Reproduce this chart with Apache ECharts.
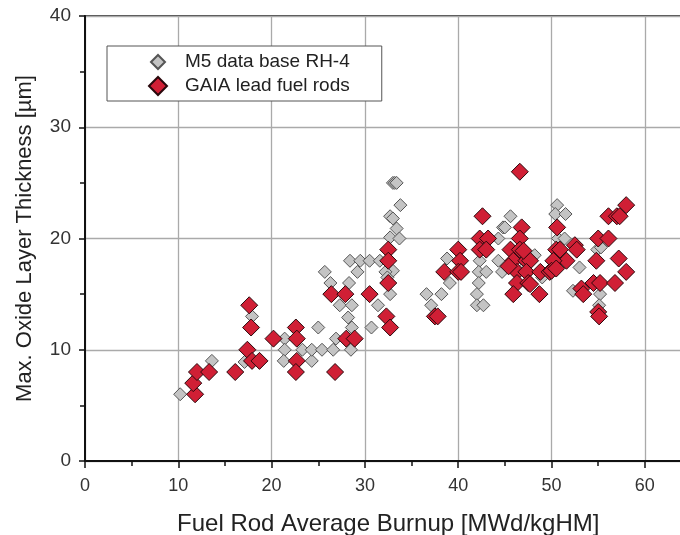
<!DOCTYPE html>
<html>
<head>
<meta charset="UTF-8">
<title>Oxide layer vs burnup</title>
<script src="https://cdn.jsdelivr.net/npm/echarts@6/dist/echarts.min.js"></script>
<style>
body { margin: 0; padding: 0; background: #fff; }
#main { width: 680px; height: 535px; }
</style>
</head>
<body>
<div id="main"></div>
<script>
// burnup [MWd/kgHM], max oxide thickness [µm]
var m5Points = [
  [10.2,6],[13.6,9],[17.9,13],[17.1,8.9],
  [21.4,11],[21.4,10],[21.3,9],[23.3,10],[24.3,9],[24.3,10],[25.4,10],[25,12],[26.6,10],[26.9,11],
  [25.7,17],[26.3,16],[27.3,14],[28.3,16],[29.2,17],[28.4,18],[29.5,18],[30.5,18],[31.6,18],
  [28.6,14],[28.2,12.9],[28.6,12],[28.5,10],[30.7,12],[31.4,14],
  [33.0,25],[33.2,25],[33.4,25],[33.8,23],[32.7,22],[33,21.8],[33.4,20.9],[32.7,20.1],[33.7,20],
  [33,17.1],[32.2,17],[32.7,15],[32.4,16.5],
  [36.6,15],[37.1,14],[38.2,15],[38.8,18.2],[39.1,16],
  [42.3,18],[42.2,17],[42.2,16],[42,15],[42,14],[42.7,14],[43,17],[44.3,20],[44.8,21],[44.3,18],
  [44.7,17],[45.6,22],[45,21],[47.2,17.5],[48.2,18.5],[49,16.5],
  [50.6,23],[50.4,22.2],[51.5,22.2],[50.7,20],[51.4,20],[53,17.4],[52.3,15.3],
  [54.9,19],[55.2,15],[55.1,14],[55.3,19.2]
];
var gaiaPoints = [
  [11.8,6],[11.6,7],[12,8],[13.3,8],[16.1,8],[17.6,14],[17.8,12],[17.4,10],[17.9,9],[18.7,9],[20.2,11],
  [22.6,12],[22.7,11],[22.7,9],[22.6,8],[26.8,8],[26.4,15],[27.9,15],[30.5,15],[28,11],[28.9,11],
  [32.5,19],[32.5,18],[32.5,16],[32.3,13],[32.7,12],
  [37.5,13],[37.8,13],[38.5,17],[40,19],[40.2,18],[40,17],[40.3,17],
  [42.3,20],[43.2,20],[42.3,19],[43,19],[42.6,22],[46.6,26],[46.8,21],[46.6,20],[45.6,19],[46.6,19],
  [45.9,18],[47.3,18],[47.7,18],[46.3,17],[47.3,17],[46.3,16],[45.9,15],[47.5,16],[47,18.9],[47.7,15.9],
  [48.8,17],[48.7,15],[49.8,17],[50.5,18],[50.5,19],[50.9,19],[50.6,21],[51.6,18],[52.5,19.4],[52.7,19],
  [53.2,15.5],[53.4,15],[54.8,18],[55,20],[56.1,20],[54.5,16],[55.2,16],[55,13.4],[55.1,13],
  [56.8,16],[57.2,18.2],[58,17],[56.1,22],[57,22],[57.3,22],[58,23],[50.2,18],[50,17.1],[50.5,17.3],[45.4,17.5]
];
var seriesNames = ['M5 data base RH-4', 'GAIA lead fuel rods'];
var xTitle = 'Fuel Rod Average Burnup [MWd/kgHM]';
var yTitle = 'Max. Oxide Layer Thickness [µm]';

var chart = echarts.init(document.getElementById('main'));
var font = 'Liberation Sans, Arial, sans-serif';

var option = {
  animation: false,
  grid: {
    left: 85, top: 16, bottom: 74, right: -11.5,
    outerBoundsMode: 'none', containLabel: false,
    show: true, borderColor: '#444', borderWidth: 2
  },
  legend: {
    orient: 'vertical',
    left: 107, top: 46,
    padding: [6, 32, 5, 28],
    itemWidth: 44, itemHeight: 18, itemGap: 4,
    borderColor: '#555', borderWidth: 1,
    backgroundColor: '#fff',
    textStyle: { fontFamily: font, fontSize: 19, lineHeight: 20, color: '#222' },
    // icon paths pad the symbol to the full 44x18 box so it sits centred
    data: [
      { name: seriesNames[0], icon: 'path://M0,0 M44,18 M15,9 L22,2 L29,9 L22,16 Z' },
      { name: seriesNames[1], icon: 'path://M0,0 M44,18 M13,9 L22,0 L31,9 L22,18 Z' }
    ]
  },
  xAxis: {
    type: 'value', min: 0, max: 65, interval: 10,
    name: xTitle, nameLocation: 'middle', nameGap: 51,
    nameTextStyle: { fontFamily: font, fontSize: 24, color: '#222' },
    axisLine: { lineStyle: { color: '#111', width: 2 } },
    axisTick: { length: 7, lineStyle: { color: '#111', width: 1.5 } },
    minorTick: { show: true, splitNumber: 2, length: 5, lineStyle: { color: '#111', width: 1.5 } },
    axisLabel: { fontFamily: font, fontSize: 18, color: '#333', margin: 16, showMaxLabel: false },
    splitLine: { lineStyle: { color: '#aaa', width: 1.3 } }
  },
  yAxis: {
    type: 'value', min: 0, max: 40, interval: 10,
    name: yTitle, nameLocation: 'middle', nameGap: 49,
    nameTextStyle: { fontFamily: font, fontSize: 22, color: '#222' },
    axisLine: { lineStyle: { color: '#111', width: 2 } },
    axisTick: { length: 6, lineStyle: { color: '#111', width: 1.5 } },
    minorTick: { show: true, splitNumber: 2, length: 5, lineStyle: { color: '#111', width: 1.5 } },
    axisLabel: { fontFamily: font, fontSize: 19, color: '#333', margin: 14 },
    splitLine: { lineStyle: { color: '#aaa', width: 1.3 } }
  },
  series: [
    {
      name: seriesNames[0], type: 'scatter', symbol: 'diamond', symbolSize: 13,
      itemStyle: { color: '#c4c4c4', borderColor: '#555', borderWidth: 1, opacity: 1 },
      data: m5Points
    },
    {
      name: seriesNames[1], type: 'scatter', symbol: 'diamond', symbolSize: 17,
      itemStyle: { color: '#d01f35', borderColor: '#2a080c', borderWidth: 1, opacity: 1 },
      data: gaiaPoints
    }
  ]
};
chart.setOption(option);
</script>
</body>
</html>
